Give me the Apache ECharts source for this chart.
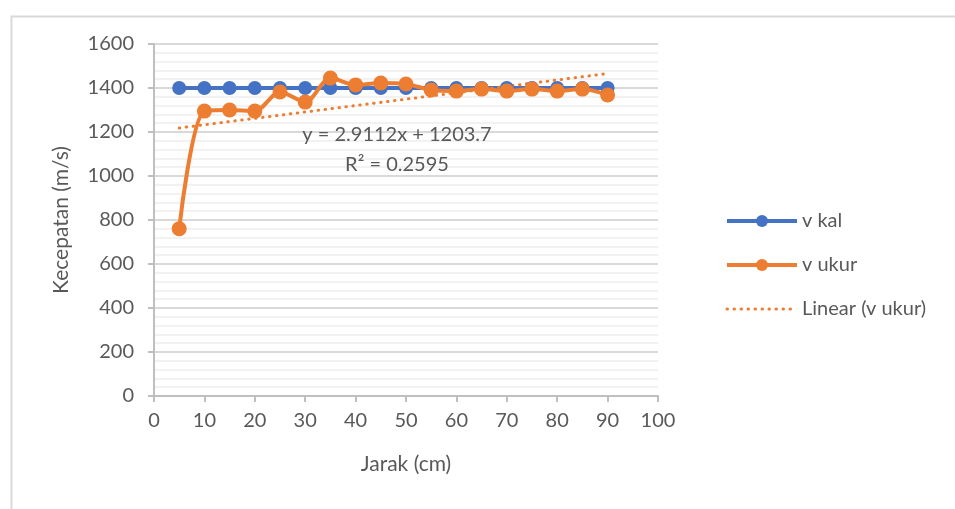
<!DOCTYPE html>
<html>
<head>
<meta charset="utf-8">
<script src="https://cdn.jsdelivr.net/npm/echarts@6/dist/echarts.min.js"></script>
<style>
html,body{margin:0;padding:0;background:#fff;}
#c{width:955px;height:509px;}
</style>
</head>
<body>
<div id="c"></div>
<script>
var jarak = [5,10,15,20,25,30,35,40,45,50,55,60,65,70,75,80,85,90];
var vKal = [1400,1400,1400,1400,1400,1400,1400,1400,1400,1400,1400,1400,1400,1400,1400,1400,1400,1400];
var vUkur = [760,1295,1300,1295,1382,1336,1445,1414,1423,1418,1391,1386,1395,1386,1395,1386,1395,1368];
var trendX = [5,90];
var trendY = [1218.3,1465.7];
var eqLine1 = 'y = 2.9112x + 1203.7';
var eqLine2 = 'R² = 0.2595';

function pairs(xs, ys){ return xs.map(function(x,i){ return [x, ys[i]]; }); }

var FONT = 'Lato';
var TXT = '#595959';
var chart = echarts.init(document.getElementById('c'), null, {renderer:'canvas'});
chart.setOption({
  animation:false,
  backgroundColor:'#fff',
  textStyle:{fontFamily:FONT,color:TXT},
  grid:{left:154,right:297,top:44,bottom:113,containLabel:false},
  xAxis:{
    type:'value',min:0,max:100,interval:10,
    name:'Jarak (cm)',nameLocation:'middle',nameGap:58,
    nameTextStyle:{fontFamily:FONT,fontSize:21,color:TXT},
    axisLine:{show:true,lineStyle:{color:'#bfbfbf',width:2}},
    axisTick:{show:true,length:6,lineStyle:{color:'#bfbfbf',width:2}},
    axisLabel:{margin:15,fontFamily:FONT,fontSize:20,color:TXT,formatter:function(v){return String(v);}},
    splitLine:{show:false}
  },
  yAxis:{
    type:'value',min:0,max:1600,interval:200,
    name:'Kecepatan (m/s)',nameLocation:'middle',nameGap:82,nameRotate:90,
    nameTextStyle:{fontFamily:FONT,fontSize:21,color:TXT},
    axisLine:{show:true,lineStyle:{color:'#bfbfbf',width:2}},
    axisTick:{show:true,length:6,lineStyle:{color:'#bfbfbf',width:2}},
    axisLabel:{margin:20,fontFamily:FONT,fontSize:20,color:TXT,formatter:function(v){return String(v);}},
    splitLine:{show:true,lineStyle:{color:'#d9d9d9',width:2}},
    minorTick:{show:false,splitNumber:5},
    minorSplitLine:{show:true,lineStyle:{color:'#f2f2f2',width:2}}
  },
  legend:{
    orient:'vertical',left:720,top:206,itemWidth:70,itemHeight:15,itemGap:24,
    textStyle:{fontFamily:FONT,fontSize:20,color:TXT,padding:[0,0,0,0]},
    data:[
      {name:'v kal',lineStyle:{width:4}},
      {name:'v ukur',lineStyle:{width:4}},
      {name:'Linear (v ukur)',itemStyle:{opacity:0},lineStyle:{width:3}}
    ]
  },
  series:[
    {name:'v kal',type:'line',data:pairs(jarak,vKal),smooth:0.3,
     symbol:'circle',symbolSize:14,
     itemStyle:{color:'#4472C4'},lineStyle:{color:'#4472C4',width:4}},
    {name:'v ukur',type:'line',data:pairs(jarak,vUkur),smooth:0.3,
     symbol:'circle',symbolSize:15,
     itemStyle:{color:'#ED7D31'},lineStyle:{color:'#ED7D31',width:4}},
    {name:'Linear (v ukur)',type:'line',data:pairs(trendX,trendY),
     symbol:'none',showSymbol:false,itemStyle:{color:'#ED7D31'},
     lineStyle:{color:'#ED7D31',width:3,type:[0.5,6.5],cap:'round'}}
  ],
  graphic:[
    {type:'rect',left:9,top:14,shape:{width:960,height:510},
     style:{fill:'none',stroke:'#d9d9d9',lineWidth:2},silent:true,z:-1},
    {type:'text',x:397,y:125,z:100,
     style:{text:eqLine1,fill:TXT,font:'20px Lato',textAlign:'center',textVerticalAlign:'top'},
     silent:true},
    {type:'text',x:397,y:155,z:100,
     style:{text:eqLine2,fill:TXT,font:'20px Lato',textAlign:'center',textVerticalAlign:'top'},
     silent:true}
  ]
});
</script>
</body>
</html>
